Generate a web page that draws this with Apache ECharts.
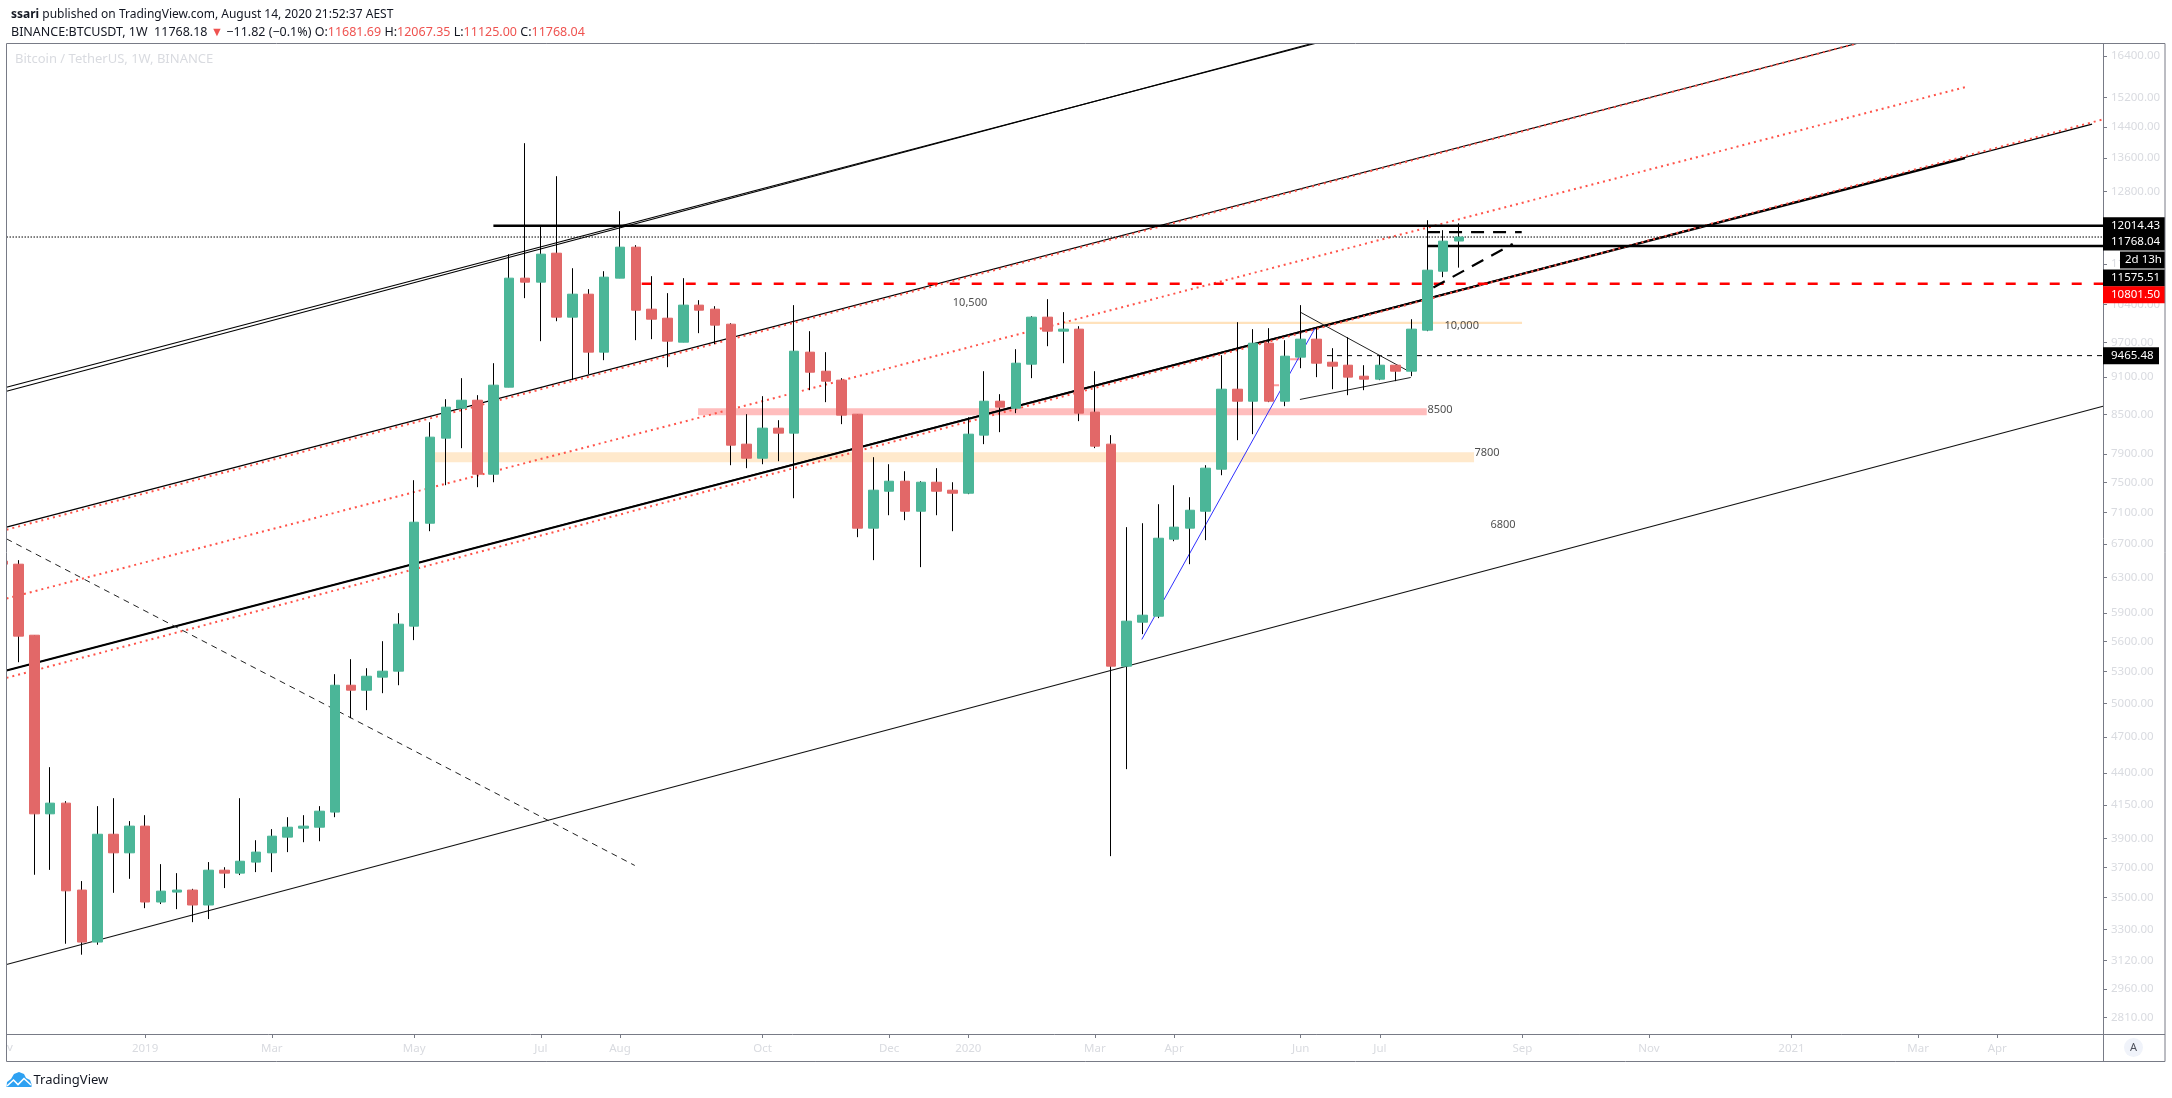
<!DOCTYPE html>
<html><head><meta charset="utf-8">
<style>html,body{margin:0;padding:0;background:#fff}#c{width:2172px;height:1098px}</style>
<script src="https://cdn.jsdelivr.net/npm/echarts@6/dist/echarts.min.js"></script>
</head><body><div id="c"></div>
<script>
// ---------- weekly candles (week index, 0 = first full candle) ----------
const weekIdx = Array.from({length:93},(_,i)=>i-1);
const opens = [6491,6455,5666,4082,4163,3549,3226,3932,3800,3991,3472,3536,3549,3453,3681,3661,3736,3800,3911,3976,3983,4095,5169,5122,5246,5304,5761,6959,8135,8595,8722,7614,8933,10912,10832,11424,10158,10596,9526,10912,11551,10308,10139,9702,10385,10308,10028,8046,7841,8286,8210,9526,9199,9049,8501,6896,7380,7517,7114,7503,7394,7353,8180,8706,8595,9318,10158,9900,9937,8533,8046,5353,5803,5867,6758,6896,7114,7684,8900,8706,9684,8706,9439,9756,9352,9301,9115,9065,9301,9199,9918,11052,11681.69];
const closes = [6455,5656,4082,4163,3544,3226,3932,3800,3991,3472,3542,3549,3453,3681,3661,3742,3805,3918,3983,3991,4102,5169,5122,5255,5304,5782,6972,8150,8611,8722,7614,8966,10912,10832,11403,10158,10596,9526,10932,11551,10289,10120,9720,10385,10289,10010,8031,7841,8286,8210,9543,9182,9032,8486,6896,7394,7517,7114,7503,7380,7353,8195,8706,8611,9335,10158,9900,9937,8517,8016,5353,5814,5878,6770,6909,7127,7699,8900,8706,9684,8706,9456,9756,9335,9284,9099,9065,9301,9199,9937,11073,11679,11768.04];
const lows = [6455,5392,3650,3683,3216,3152,3210,3531,3623,3433,3459,3427,3346,3365,3562,3648,3668,3668,3805,3875,3882,4057,4866,4938,5094,5169,5615,6858,7462,7987,7435,7503,8933,10519,9720,10083,9049,9149,9387,10912,9738,9756,9267,9702,9864,9666,7741,7699,7755,7798,7286,8884,8691,8347,6783,6503,7062,6998,6420,7062,6858,7340,8046,8225,8517,9082,9631,9335,8393,7987,3777,4431,5677,5846,6733,6455,6746,7600,8105,8195,8691,8627,9250,9099,8900,8803,8884,9049,9032,9115,9900,10932,11125];
const highs = [6491,6503,5666,4447,4178,3608,4140,4201,4028,4072,3722,3661,3557,3736,3701,4201,3889,3969,4057,4072,4140,5275,5422,5333,5604,5900,7531,8377,8738,9082,8803,9335,11403,13980,12030,13158,11113,10694,11052,12339,11593,10952,10616,10912,10480,10365,10046,8501,8787,8408,10385,9900,9526,9082,8501,7856,7755,7656,7517,7699,7503,8454,9199,8819,9578,10176,10499,10252,9991,9199,8180,6909,6959,7206,7462,7299,7741,9473,10065,9937,9955,9738,10385,9973,9596,9792,9301,9473,9301,10120,12137,11917,12067.35];

// ---------- axes ----------
const xMin = -0.757, xMax = 131.68, yMin = 2725, yMax = 16787;
const xTickWeeks  = [8,16,25,33,38,47,55,60,68,73,81,86,95,103,112,120,125];
const xTickLabels = ['2019','Mar','May','Jul','Aug','Oct','Dec','2020','Mar','Apr','Jun','Jul','Sep','Nov','2021','Mar','Apr'];
const yTickValues = [16400,15200,14400,13600,12800,12000,11200,10400,9700,9100,8500,7900,7500,7100,6700,6300,5900,5600,5300,5000,4700,4400,4150,3900,3700,3500,3300,3120,2960,2810];

// ---------- drawn trend lines: [week, price] pairs ----------
const channelOuterA = [[xMin,8933],[81.9,16787]];
const channelOuterB = [[xMin,8868],[81.71,16787]];
const channelUpper = [[xMin,6909],[116.12,16787]];
const channelUpperDots = [[xMin,6877],[116.12,16787]];
const channelMidDots = [[xMin,6061],[123.03,15501]];
const channelMainA = [[xMin,5311],[122.96,13600]];
const channelMainB = [[xMin,5311],[130.99,14476]];
const channelMainDots = [[xMin,5239],[131.66,14601]];
const channelLower = [[xMin,3096],[131.68,8627]];
const fallingDash = [[xMin,6762],[38.93,3713]];
const blueRise = [[70.96,5622],[81.9,9951]];
const triangleTop = [[80.97,10252],[87.7,9216]];
const triangleBottom = [[80.95,8734],[87.95,9093]];
const resistance = [[30,12014.43],[xMax,12014.43]];
const support = [[89,11575.51],[xMax,11575.51]];
const redLevel = [[39.37,10801.5],[xMax,10801.5]];
const lastPrice = [[xMin,11768.04],[xMax,11768.04]];
const lowerLevel = [[82.66,9465.48],[xMax,9465.48]];
const projFlat = [[88.98,11873],[94.96,11873]];
const projRise = [[89.38,10727],[94.39,11621]];
const line10k = [[65.99,10052],[94.98,10052]];
const pinkStubA = [[79.31,8966],[79.63,8966]];
const pinkStubB = [[80.33,9404],[80.96,9404]];

// ---------- shaded zones: [fromWeek, toWeek, priceLow, priceHigh] ----------
const zone8500 = [42.93,88.96,8486,8595];
const zone7800 = [26.27,91.95,7784,7929];

// ---------- notes and price tags ----------
const noteTexts = ['10,500','10,000','8500','7800','6800'];
const noteWeeks = [60.11,91.17,89.8,92.77,93.78];
const notePrices = [10423,9990,8575,7925,6932];
const tagValues = [12014.43,11768.04,11768.04,11575.51,10801.5,9465.48];
const tagTexts = ['12014.43','11768.04','2d 13h','11575.51','10801.50','9465.48'];

// ---------- styling (not data) ----------
const GREEN='#4bb698', RED='#e26868', AXIS='#787b86', LIGHT='#d9dbe0', DOT='#ff5349';
const tagFill = ['#000','#000','#000','#000','#ff0000','#000'];
const tagNudge = [0,5,23,32,11,0];
const tagLeft = [0,0,17,0,0,0];
const tagWidth = [62,62,45,62,62,56];
const FONT='"Noto Sans"';

// wick series: its box collapses to a line inside the body, so only the 1px wick shows
const ohlcWick = weekIdx.map((k,i)=>{const m=(opens[i]+closes[i])/2;return [k,m,m,lows[i],highs[i]];});
const ohlcBody = weekIdx.map((k,i)=>[k,opens[i],closes[i],Math.min(opens[i],closes[i]),Math.max(opens[i],closes[i])]);

function trend(name,data,color,width,dash){
  return {name,type:'line',data,showSymbol:false,symbol:'none',silent:true,z:3,animation:false,
    lineStyle:{color,width,type:dash||'solid',cap:'butt'}};
}
function zone(name,z,color){
  return {name,type:'custom',silent:true,z:1,animation:false,data:[[z[0],z[2],z[1],z[3]]],
    encode:{x:[0,2],y:[1,3]},
    renderItem(p,api){
      const a=api.coord([api.value(0),api.value(1)]), b=api.coord([api.value(2),api.value(3)]);
      return {type:'rect',shape:{x:a[0],y:b[1],width:b[0]-a[0],height:a[1]-b[1]},style:{fill:color}};
    }};
}

const chart=echarts.init(document.getElementById('c'),null,{renderer:'canvas'});
chart.setOption({
  animation:false,
  backgroundColor:'#fff',
  textStyle:{fontFamily:FONT},
  title:[
    {left:6,top:4,text:'{b|ssari} published on TradingView.com, August 14, 2020 21:52:37 AEST',
     textStyle:{fontSize:12,fontWeight:'normal',color:'#131722',fontFamily:FONT,rich:{b:{fontWeight:'bold',fontSize:12,color:'#131722',fontFamily:FONT}}}},
    {left:6,top:21,text:'BINANCE:BTCUSDT, 1W  11768.18 {r|▼} −11.82 (−0.1%) O:{r|11681.69} H:{r|12067.35} L:{r|11125.00} C:{r|11768.04}',
     textStyle:{fontSize:12.5,fontWeight:'normal',color:'#131722',fontFamily:FONT,rich:{r:{color:'#ef5350',fontSize:12.5,fontFamily:FONT}}}}
  ],
  grid:{left:6.5,right:69,top:43.5,bottom:64,show:false,containLabel:false},
  xAxis:{type:'value',min:xMin,max:xMax,splitLine:{show:false},
    axisLine:{show:true,onZero:false,lineStyle:{color:AXIS,width:1}},
    axisTick:{show:true,length:4,customValues:xTickWeeks,lineStyle:{color:AXIS}},
    axisLabel:{customValues:xTickWeeks,color:LIGHT,fontSize:11.5,fontFamily:FONT,margin:9,
      formatter:v=>xTickLabels[xTickWeeks.indexOf(v)]||''}},
  yAxis:{type:'log',position:'right',min:yMin,max:yMax,logBase:10,splitLine:{show:false},minorTick:{show:false},
    axisLine:{show:true,onZero:false,lineStyle:{color:AXIS,width:1}},
    axisTick:{show:true,length:4,customValues:yTickValues,lineStyle:{color:AXIS}},
    axisLabel:{customValues:yTickValues,color:LIGHT,fontSize:11.5,fontFamily:FONT,margin:8,
      formatter:v=>Number(v).toFixed(2)}},
  graphic:[
    {type:'rect',silent:true,z:49,shape:{x:0,y:44,width:6.5,height:1017},style:{fill:'#fff'}},
    {type:'rect',silent:true,z:50,shape:{x:6.5,y:43.5,width:2158.5,height:1018},style:{fill:'none',stroke:AXIS,lineWidth:1}},
    {type:'line',silent:true,z:50,shape:{x1:2103,y1:1034.5,x2:2165,y2:1034.5},style:{stroke:AXIS,lineWidth:1}},
    {type:'line',silent:true,z:50,shape:{x1:2103.5,y1:1034,x2:2103.5,y2:1061},style:{stroke:AXIS,lineWidth:1}},
    {type:'text',silent:true,z:50,style:{x:15,y:53,text:'Bitcoin / TetherUS, 1W, BINANCE',fill:LIGHT,font:'13px '+FONT}},
    {type:'text',silent:true,z:50,style:{x:7,y:1042,text:'v',fill:LIGHT,font:'11.5px '+FONT}},
    {type:'circle',silent:true,z:50,shape:{cx:2133.5,cy:1047.5,r:9.5},style:{fill:'#f0f3fa'}},
    {type:'text',silent:true,z:51,style:{x:2133.5,y:1047.5,text:'A',fill:'#50535e',font:'11px '+FONT,align:'center',verticalAlign:'middle'}},
    {type:'polygon',silent:true,z:50,shape:{points:[[6.5,1087],[7,1082],[11,1079],[14,1074],[19,1072],[24,1074],[26,1078],[30,1080],[31.5,1084],[31.5,1087]]},style:{fill:'#2ea1f2'}},
    {type:'polyline',silent:true,z:51,shape:{points:[[7,1086],[13.5,1080],[18,1084.5],[24,1078.5],[31,1085]]},style:{fill:'none',stroke:'#fff',lineWidth:1.6}},
    {type:'text',silent:true,z:50,style:{x:33.5,y:1080,text:'TradingView',fill:'#131722',font:'13px '+FONT,verticalAlign:'middle'}}
  ],
  series:[
    zone('8500 zone',zone8500,'#ffbdbd'),
    zone('7800 zone',zone7800,'#ffe9cc'),
    trend('10000 line',line10k,'#ffe2bc',2.4),
    trend('pink stub a',pinkStubA,'#ff9a9a',2),
    trend('pink stub b',pinkStubB,'#ff9a9a',2),
    trend('channel outer a',channelOuterA,'#000',1.1),
    trend('channel outer b',channelOuterB,'#000',1.1),
    trend('channel upper',channelUpper,'#000',1.2),
    trend('channel upper dots',channelUpperDots,DOT,2,[2,4]),
    trend('channel mid dots',channelMidDots,DOT,2,[2,4]),
    trend('channel main a',channelMainA,'#000',2.2),
    trend('channel main b',channelMainB,'#000',1.2),
    trend('channel main dots',channelMainDots,DOT,2,[2,4]),
    trend('channel lower',channelLower,'#111',1.1),
    trend('falling dash',fallingDash,'#222',1,[6,5]),
    trend('blue rise',blueRise,'#3030ff',1),
    trend('triangle top',triangleTop,'#222',1),
    trend('triangle bottom',triangleBottom,'#222',1),
    trend('resistance',resistance,'#000',2.4),
    trend('support',support,'#000',2.4),
    trend('red level',redLevel,'#ff0000',2.4,[10,12]),
    trend('last price',lastPrice,'#000',1,[1.5,1.5]),
    trend('lower level',lowerLevel,'#000',1,[5,5]),
    trend('projection flat',projFlat,'#000',2.2,[13,9]),
    trend('projection rise',projRise,'#000',2.2,[13,9]),
    {name:'wicks',type:'candlestick',silent:true,z:5,animation:false,barWidth:1,data:ohlcWick,
      itemStyle:{color:'#000',color0:'#000',borderColor:'#000',borderColor0:'#000',borderWidth:1}},
    {name:'bodies',type:'candlestick',silent:true,z:6,animation:false,barWidth:10,data:ohlcBody,
      itemStyle:{color:GREEN,color0:RED,borderColor:GREEN,borderColor0:RED,borderWidth:1}},
    {name:'notes',type:'scatter',silent:true,z:7,animation:false,symbolSize:0,
      data:noteWeeks.map((k,i)=>[k,notePrices[i],noteTexts[i]]),
      label:{show:true,position:'inside',formatter:p=>p.value[2],color:'#222',fontSize:11,fontFamily:FONT}},
    {name:'price tags',type:'custom',silent:true,z:20,animation:false,clip:false,
      data:tagValues.map((v,i)=>[xMax,v,i]),encode:{x:0,y:1},
      renderItem(p,api){
        const i=api.value(2), c=api.coord([xMax,api.value(1)]);
        const x=c[0]+tagLeft[i], y=c[1]+tagNudge[i];
        return {type:'group',children:[
          {type:'rect',shape:{x:x,y:y-8.5,width:tagWidth[i],height:17},style:{fill:tagFill[i]}},
          {type:'text',style:{x:x+(tagLeft[i]?5:8),y:y,text:tagTexts[i],fill:'#fff',font:'11.5px '+FONT,verticalAlign:'middle'}}
        ]};
      }}
  ]
});
</script></body></html>
